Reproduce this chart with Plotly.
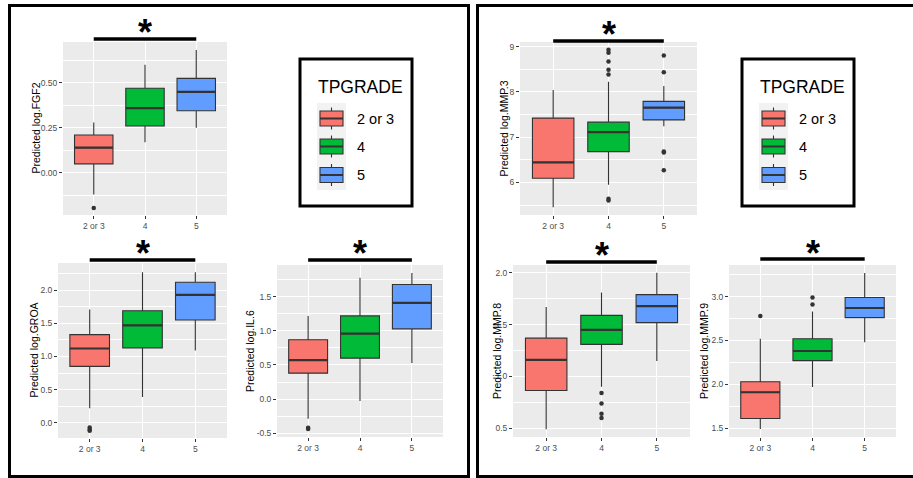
import plotly.graph_objects as go

# ---------------- data ----------------
groups = ["2 or 3", "4", "5"]
colors = ["#F8766D", "#00BA38", "#619CFF"]

markers = ["log.FGF2", "log.GROA", "log.IL.6", "log.MMP.3", "log.MMP.8", "log.MMP.9"]

# box statistics per marker, one value per group
fgf2_low = [-0.12, 0.17, 0.25]
fgf2_q1 = [0.05, 0.26, 0.345]
fgf2_med = [0.14, 0.36, 0.45]
fgf2_q3 = [0.21, 0.47, 0.525]
fgf2_high = [0.28, 0.60, 0.683]
fgf2_out = [[-0.195], [], []]

groa_low = [0.22, 0.39, 1.09]
groa_q1 = [0.85, 1.13, 1.55]
groa_med = [1.12, 1.47, 1.93]
groa_q3 = [1.33, 1.69, 2.12]
groa_high = [1.71, 2.27, 2.27]
groa_out = [[-0.07, -0.10, -0.12], [], []]

il6_low = [-0.29, -0.03, 0.53]
il6_q1 = [0.38, 0.60, 1.03]
il6_med = [0.57, 0.96, 1.41]
il6_q3 = [0.87, 1.22, 1.68]
il6_high = [1.22, 1.78, 1.85]
il6_out = [[-0.42, -0.44], [], []]

mmp3_low = [5.45, 5.95, 7.24]
mmp3_q1 = [6.09, 6.68, 7.38]
mmp3_med = [6.44, 7.11, 7.65]
mmp3_q3 = [7.42, 7.33, 7.79]
mmp3_high = [8.04, 8.22, 8.13]
mmp3_out = [[], [8.93, 8.86, 8.67, 8.49, 8.38, 5.64, 5.60], [8.80, 8.43, 6.68, 6.66, 6.27]]

mmp8_low = [0.49, 0.90, 1.15]
mmp8_q1 = [0.865, 1.31, 1.52]
mmp8_med = [1.16, 1.45, 1.68]
mmp8_q3 = [1.37, 1.59, 1.79]
mmp8_high = [1.67, 1.81, 2.00]
mmp8_out = [[], [0.84, 0.74, 0.64, 0.60], []]

mmp9_low = [1.49, 1.97, 2.48]
mmp9_q1 = [1.61, 2.27, 2.76]
mmp9_med = [1.91, 2.38, 2.87]
mmp9_q3 = [2.03, 2.52, 2.99]
mmp9_high = [2.52, 2.83, 3.27]
mmp9_out = [[2.78], [2.99, 2.91], []]

# y-axis ticks
fgf2_ticks = [0.0, 0.25, 0.50]
fgf2_ticktext = ["0.00", "0.25", "0.50"]
groa_ticks = [0.0, 0.5, 1.0, 1.5, 2.0]
groa_ticktext = ["0.0", "0.5", "1.0", "1.5", "2.0"]
il6_ticks = [-0.5, 0.0, 0.5, 1.0, 1.5]
il6_ticktext = ["-0.5", "0.0", "0.5", "1.0", "1.5"]
mmp3_ticks = [6, 7, 8, 9]
mmp3_ticktext = ["6", "7", "8", "9"]
mmp8_ticks = [0.5, 1.0, 1.5, 2.0]
mmp8_ticktext = ["0.5", "1.0", "1.5", "2.0"]
mmp9_ticks = [1.5, 2.0, 2.5, 3.0]
mmp9_ticktext = ["1.5", "2.0", "2.5", "3.0"]

# ---------------- layout helpers ----------------
W, H = 913, 478


def px(x):
    return x / W


def py(y):
    return 1 - y / H


FONT = "Arial, Liberation Sans, sans-serif"
BOX_W = 0.75

panels = [
    dict(stats=(fgf2_low, fgf2_q1, fgf2_med, fgf2_q3, fgf2_high), out=fgf2_out,
         ticks=fgf2_ticks, ticktext=fgf2_ticktext, yr=[-0.234, 0.727],
         box=(63, 227, 42, 215), title_x=35, bar_y=39, star_y=27),
    dict(stats=(groa_low, groa_q1, groa_med, groa_q3, groa_high), out=groa_out,
         ticks=groa_ticks, ticktext=groa_ticktext, yr=[-0.23, 2.41],
         box=(58, 227, 263, 438), title_x=33, bar_y=260, star_y=247),
    dict(stats=(il6_low, il6_q1, il6_med, il6_q3, il6_high), out=il6_out,
         ticks=il6_ticks, ticktext=il6_ticktext, yr=[-0.557, 1.967],
         box=(277, 443, 265, 437), title_x=250, bar_y=260, star_y=247),
    dict(stats=(mmp3_low, mmp3_q1, mmp3_med, mmp3_q3, mmp3_high), out=mmp3_out,
         ticks=mmp3_ticks, ticktext=mmp3_ticktext, yr=[5.28, 9.10],
         box=(520, 697, 42, 215), title_x=503, bar_y=41, star_y=28),
    dict(stats=(mmp8_low, mmp8_q1, mmp8_med, mmp8_q3, mmp8_high), out=mmp8_out,
         ticks=mmp8_ticks, ticktext=mmp8_ticktext, yr=[0.416, 2.076],
         box=(513, 690, 265, 437), title_x=497, bar_y=262, star_y=249),
    dict(stats=(mmp9_low, mmp9_q1, mmp9_med, mmp9_q3, mmp9_high), out=mmp9_out,
         ticks=mmp9_ticks, ticktext=mmp9_ticktext, yr=[1.40, 3.36],
         box=(729, 896, 265, 437), title_x=704, bar_y=259, star_y=247),
]

fig = go.Figure()
shapes = []
annotations = []

for k, (name, p) in enumerate(zip(markers, panels)):
    n = "" if k == 0 else str(k + 1)
    xa, ya = "x" + n, "y" + n
    low, q1, med, q3, high = p["stats"]
    for i, g in enumerate(groups):
        fig.add_trace(go.Box(
            x=[i], lowerfence=[low[i]], q1=[q1[i]], median=[med[i]], q3=[q3[i]],
            upperfence=[high[i]], width=BOX_W, whiskerwidth=0,
            fillcolor=colors[i], line=dict(color="#333333", width=1.1),
            boxpoints=False, showlegend=False, hoverinfo="skip",
            xaxis=xa, yaxis=ya))
        # thicker median bar, as ggplot draws it
        fig.add_trace(go.Scatter(
            x=[i - BOX_W / 2, i + BOX_W / 2], y=[med[i], med[i]], mode="lines",
            line=dict(color="#333333", width=2.2), showlegend=False,
            hoverinfo="skip", xaxis=xa, yaxis=ya))
        if p["out"][i]:
            fig.add_trace(go.Scatter(
                x=[i] * len(p["out"][i]), y=p["out"][i], mode="markers",
                marker=dict(color="#333333", size=4.5), showlegend=False,
                hoverinfo="skip", xaxis=xa, yaxis=ya))

    x0, x1, y0, y1 = p["box"]
    minor = [t + (p["ticks"][1] - p["ticks"][0]) / 2
             for t in [p["ticks"][0] - (p["ticks"][1] - p["ticks"][0])] + p["ticks"]]
    fig.update_layout({
        "xaxis" + n: dict(
            domain=[px(x0), px(x1)], anchor=ya, range=[-0.6, 2.6],
            tickmode="array", tickvals=[0, 1, 2], ticktext=groups,
            showgrid=True, gridcolor="white", gridwidth=1.1, zeroline=False,
            ticks="outside", ticklen=3, tickwidth=1, tickcolor="#333333",
            tickfont=dict(family=FONT, size=8.5, color="#4D4D4D"),
            fixedrange=True),
        "yaxis" + n: dict(
            domain=[py(y1), py(y0)], anchor=xa, range=p["yr"],
            tickmode="array", tickvals=p["ticks"], ticktext=p["ticktext"],
            showgrid=True, gridcolor="white", gridwidth=1.1, zeroline=False,
            minor=dict(tickmode="array", tickvals=minor, showgrid=True,
                       gridcolor="white", gridwidth=0.5, ticks=""),
            ticks="outside", ticklen=3, tickwidth=1, tickcolor="#333333",
            tickfont=dict(family=FONT, size=8.5, color="#4D4D4D"),
            fixedrange=True),
    })

    # y-axis title
    annotations.append(dict(
        text="Predicted " + name, xref="paper", yref="paper",
        x=px(p["title_x"]), y=py((y0 + y1) / 2), textangle=-90,
        showarrow=False, xanchor="center", yanchor="middle",
        font=dict(family=FONT, size=10.5, color="#000000")))

    # significance bar across first and last group with a star
    shapes.append(dict(
        type="line", xref=xa, yref="paper", x0=0, x1=2,
        y0=py(p["bar_y"]), y1=py(p["bar_y"]),
        line=dict(color="black", width=3.5)))
    annotations.append(dict(
        text="<b>*</b>", xref=xa, yref="paper", x=1, y=py(p["star_y"]),
        showarrow=False, xanchor="center", yanchor="middle", yshift=-6,
        font=dict(family=FONT, size=36, color="black")))

# outer frames
shapes.append(dict(type="rect", xref="paper", yref="paper",
                   x0=px(9.5), x1=px(468.5), y0=py(476.5), y1=py(5.5),
                   line=dict(color="black", width=3)))
shapes.append(dict(type="rect", xref="paper", yref="paper",
                   x0=px(477.5), x1=px(918), y0=py(476.5), y1=py(5.5),
                   line=dict(color="black", width=3)))

# legends (one per frame)
for dx in (0, 442):
    shapes.append(dict(type="rect", xref="paper", yref="paper",
                       x0=px(300 + dx), x1=px(412 + dx), y0=py(206), y1=py(59),
                       line=dict(color="black", width=3), fillcolor="white"))
    annotations.append(dict(
        text="TPGRADE", xref="paper", yref="paper", x=px(316 + dx), y=py(87),
        showarrow=False, xanchor="left", yanchor="middle",
        font=dict(family=FONT, size=17.5, color="#000000")))
    shapes.append(dict(type="rect", xref="paper", yref="paper",
                       x0=px(317 + dx), x1=px(346 + dx), y0=py(190), y1=py(103),
                       line=dict(width=0), fillcolor="#F2F2F2"))
    for i, g in enumerate(groups):
        cy = [118.5, 146.5, 175][i]
        shapes.append(dict(type="line", xref="paper", yref="paper",
                           x0=px(331.5 + dx), x1=px(331.5 + dx),
                           y0=py(cy - 11), y1=py(cy + 11),
                           line=dict(color="#333333", width=1.1)))
        shapes.append(dict(type="rect", xref="paper", yref="paper",
                           x0=px(320 + dx), x1=px(343 + dx),
                           y0=py(cy + 7.5), y1=py(cy - 7.5),
                           line=dict(color="#333333", width=1.1),
                           fillcolor=colors[i]))
        shapes.append(dict(type="line", xref="paper", yref="paper",
                           x0=px(320 + dx), x1=px(343 + dx),
                           y0=py(cy), y1=py(cy),
                           line=dict(color="#333333", width=2)))
        annotations.append(dict(
            text=g, xref="paper", yref="paper", x=px(355 + dx), y=py(cy),
            showarrow=False, xanchor="left", yanchor="middle",
            font=dict(family=FONT, size=14.5, color="#000000")))

fig.update_layout(
    width=W, height=H, autosize=False,
    margin=dict(l=0, r=0, t=0, b=0, pad=0),
    paper_bgcolor="white", plot_bgcolor="#EBEBEB",
    showlegend=False, shapes=shapes, annotations=annotations,
    boxmode="overlay",
)

fig.write_html("out.html")
